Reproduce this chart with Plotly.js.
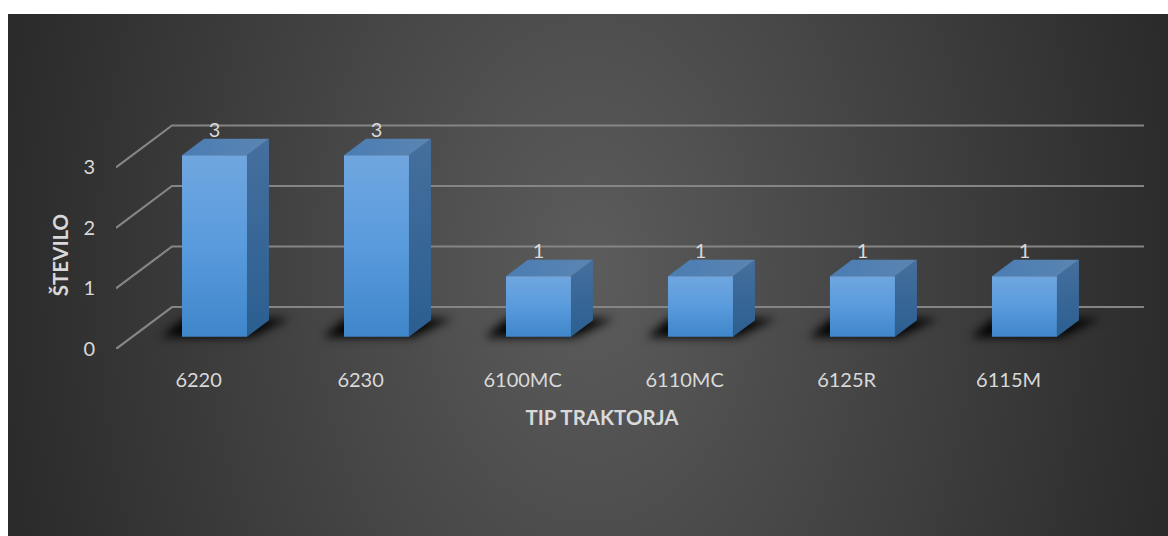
<!DOCTYPE html>
<html>
<head>
<meta charset="utf-8">
<script src="https://cdn.plot.ly/plotly-3.0.1.min.js"></script>
<style>
  html, body { margin: 0; padding: 0; background: #fff; }
  #panel {
    position: absolute; left: 8px; top: 14px; width: 1160px; height: 522px;
    background: radial-gradient(ellipse 600px 900px at 582px 256px, #5c5c5c 0%, #2a2a2a 100%);
  }
  #chart { position: absolute; left: 0; top: 0; width: 1168px; height: 536px; }
</style>
</head>
<body>
<div id="panel"></div>
<div id="chart"></div>
<script>
// Tractor counts by type
const categories = ['6220', '6230', '6100MC', '6110MC', '6125R', '6115M'];
const counts = [3, 3, 1, 1, 1, 1];
const valueTicks = [0, 1, 2, 3];

// Oblique projection of the 3D floor, in axis units
const floorDepthX = 0.3457;
const floorDepthY = 0.6942;
const barOffsetX = 0.108;
const barWidth = 0.401;
const barBaseY = 0.2033;
const barDepthX = 0.1358;
const barDepthY = 0.2727;
const labelLift = 0.58;

const frontGradient = [[0, '#3f86ca'], [0.5, '#599bdd'], [1, '#70a6df']];
const sideGradient = [[0, '#2b5f90'], [1, '#456f9e']];
const topGradient = [[0, '#4b7db3'], [1, '#5a85b2']];

// Marks live on x2/y2, which span the front plane plus the floor depth;
// x/y carry the tick labels and titles for the front plane only.
const traces = [{
  type: 'scatter', mode: 'none',
  x: categories.map((_, i) => i), y: counts,
  showlegend: false, hoverinfo: 'skip'
}];
const ignore = { showlegend: false, hoverinfo: 'skip', xaxis: 'x2', yaxis: 'y2' };

// Back wall and floor lines at every tick value
valueTicks.forEach(v => {
  traces.push(Object.assign({
    type: 'scatter', mode: 'lines',
    x: [-0.5, -0.5 + floorDepthX, 5.5 + floorDepthX],
    y: [v, v + floorDepthY, v + floorDepthY],
    line: { color: '#858585', width: 2.2 }
  }, ignore));
});

const polygon = (xs, ys, extra) => Object.assign({
  type: 'scatter', mode: 'lines', x: xs.concat(xs[0]), y: ys.concat(ys[0]),
  fill: 'toself', line: { width: 0 }
}, extra, ignore);

// Contact shadows under each box; softened once the plot is drawn
const shadowStart = traces.length;
counts.forEach((_, i) => {
  const left = i + barOffsetX - barWidth / 2;
  const right = left + barWidth;
  const spread = 0.13;
  traces.push(polygon(
    [left - spread, right + spread * 0.2, right + barDepthX + spread, left + barDepthX - spread],
    [barBaseY - 0.01, barBaseY - 0.01, barBaseY + barDepthY + 0.03, barBaseY + barDepthY + 0.03],
    { fillcolor: 'rgba(0,0,0,0.95)' }
  ));
});
const shadowEnd = traces.length;

// Box faces for each count
counts.forEach((value, i) => {
  const left = i + barOffsetX - barWidth / 2;
  const right = left + barWidth;
  const bottom = barBaseY;
  const top = barBaseY + value;
  traces.push(polygon(
    [right, right + barDepthX, right + barDepthX, right],
    [bottom, bottom + barDepthY, top + barDepthY, top],
    { fillgradient: { type: 'vertical', colorscale: sideGradient } }
  ));
  traces.push(polygon(
    [left, right, right + barDepthX, left + barDepthX],
    [top, top, top + barDepthY, top + barDepthY],
    { fillgradient: { type: 'horizontal', colorscale: topGradient } }
  ));
  traces.push(polygon(
    [left, right, right, left],
    [bottom, bottom, top, top],
    { fillgradient: { type: 'vertical', colorscale: frontGradient } }
  ));
});

// Value labels above each box
traces.push(Object.assign({
  type: 'scatter', mode: 'text',
  x: counts.map((_, i) => i + barOffsetX),
  y: counts.map(v => v + labelLift),
  text: counts.map(String),
  textposition: 'middle center',
  textfont: { family: 'Lato, sans-serif', size: 20, color: '#d9d9d9' }
}, ignore));

const hiddenAxis = { visible: false, fixedrange: true };

const layout = {
  width: 1168, height: 536,
  margin: { l: 116, r: 24, t: 110, b: 187 },
  paper_bgcolor: 'rgba(0,0,0,0)',
  plot_bgcolor: 'rgba(0,0,0,0)',
  showlegend: false,
  font: { family: 'Lato, sans-serif', color: '#d9d9d9' },
  xaxis: {
    domain: [0, 0.9455],
    range: [-0.51, 5.49],
    tickmode: 'array',
    tickvals: categories.map((_, i) => i),
    ticktext: categories,
    tickfont: { size: 20, color: '#d9d9d9' },
    showgrid: false, zeroline: false, showline: false, ticks: '',
    ticklabelstandoff: 17,
    title: { text: '<b>TIP TRAKTORJA</b>', font: { size: 20.5, color: '#d9d9d9' }, standoff: 20 }
  },
  yaxis: {
    domain: [0, 0.7866],
    range: [0, 3.107],
    tickmode: 'array',
    tickvals: valueTicks,
    ticktext: valueTicks.map(String),
    tickfont: { size: 20, color: '#d9d9d9' },
    showgrid: false, zeroline: false, showline: false, ticks: '',
    ticklabelstandoff: 20,
    title: { text: '<b>ŠTEVILO</b>', font: { size: 20.5, color: '#d9d9d9' }, standoff: 9 }
  },
  xaxis2: Object.assign({ domain: [0, 1], range: [-0.5, 5.846], anchor: 'y2' }, hiddenAxis),
  yaxis2: Object.assign({ domain: [0, 1], range: [0, 3.95], anchor: 'x2' }, hiddenAxis)
};

Plotly.newPlot('chart', traces, layout, { displayModeBar: false, staticPlot: true }).then(gd => {
  gd.calcdata.slice(shadowStart, shadowEnd).forEach(cd => {
    const group = cd[0].node3 && cd[0].node3.node();
    if (group) group.style.filter = 'blur(5px)';
  });
});
</script>
</body>
</html>
